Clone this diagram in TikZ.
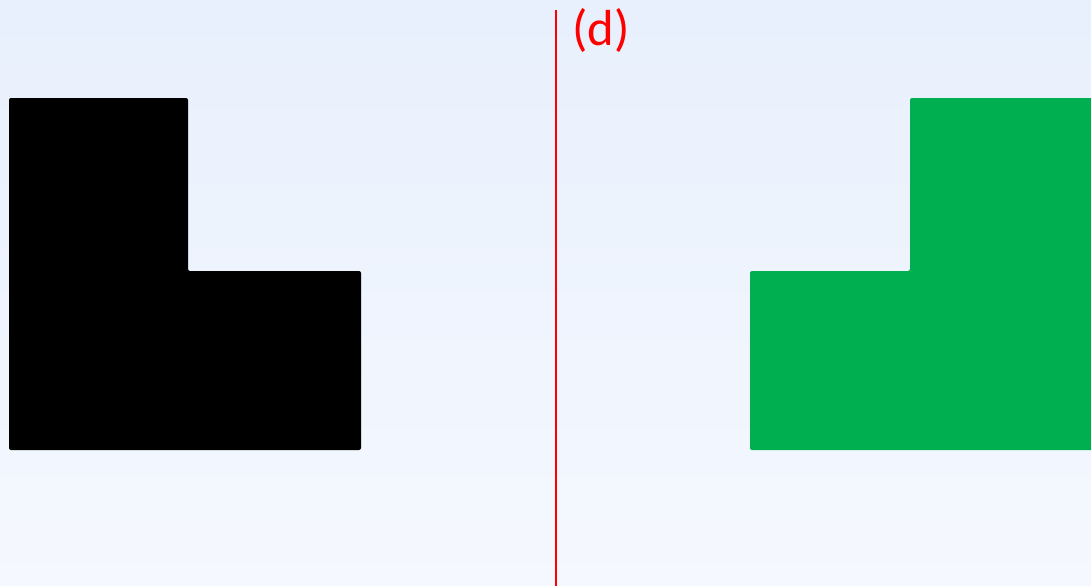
\documentclass[tikz,border=0pt]{standalone}
\usepackage{fontspec}
\setmainfont{Carlito}
\usetikzlibrary{calc}
\definecolor{bgtop}{RGB}{232,240,253}
\definecolor{bgbot}{RGB}{245,248,254}
\definecolor{okgreen}{RGB}{0,176,80}
\tikzset{
    shapefill/.style={rounded corners=1.5pt}
}
\begin{document}
\begin{tikzpicture}[x=0.75pt,y=-0.75pt]
\shade[top color=bgtop,bottom color=bgbot] (0,0) rectangle (1091,585);
\useasboundingbox (0,0) rectangle (1091,585);
\clip (0,0) rectangle (1091,585);
\foreach \x/\y/\p in {9/98/b1, 188/98/b2, 188/271/b3, 361/271/b4, 361/450/b5, 9/450/b6, 910/98/g1, 1095/98/g2, 1095/450/g3, 750/450/g4, 750/271/g5, 910/271/g6}{
    \coordinate (\p) at (\x,\y);
}
\fill[shapefill, black] (b1) -- (b2) -- (b3) -- (b4) -- (b5) -- (b6) -- cycle;
\fill[shapefill, okgreen] (g1) -- (g2) -- (g3) -- (g4) -- (g5) -- (g6) -- cycle;
\coordinate (axtop) at (556,10);
\coordinate (axbot) at (556,590);
\draw[red, line width=1.5pt] (axtop) -- (axbot);
\node[red, font=\fontsize{38}{43}\selectfont, anchor=west, inner sep=0pt] (lbl) at (572,30) {(d)};
\end{tikzpicture}
\end{document}
